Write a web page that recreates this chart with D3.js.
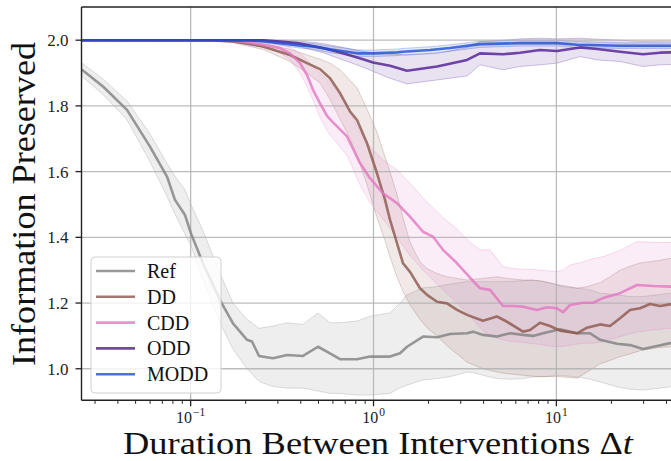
<!DOCTYPE html>
<html><head><meta charset="utf-8">
<script src="https://cdn.jsdelivr.net/npm/d3@7"></script>
<style>html,body{margin:0;padding:0;background:#fff;} svg{display:block;}</style>
</head><body>
<svg id="chart" width="671" height="461"></svg>
<script>
// ---------- data ----------
const seriesNames = ["Ref", "DD", "CDD", "ODD", "MODD"];
const seriesColors = ["#7f7f7f", "#8c564b", "#e377c2", "#4e1d94", "#1f4fd0"];

const refX    = [0.02545,0.03317,0.04485,0.05992,0.07424,0.08209,0.09314,0.1004,0.1168,0.1447,0.1704,0.2033,0.2165,0.2365,0.2821,0.3364,0.4115,0.4971,0.5781,0.6558,0.8124,0.9569,1.231,1.396,1.525,1.865,2.225,2.620,3.246,3.501,3.970,4.736,5.579,6.571,7.452,8.452,10.47,12.97,15.28,17.33,21.47,25.28,29.78,35.51,41.83,47.46];
const refMean = [1.910,1.859,1.788,1.676,1.585,1.514,1.468,1.412,1.321,1.209,1.138,1.088,1.083,1.039,1.032,1.042,1.039,1.067,1.047,1.029,1.029,1.037,1.037,1.047,1.067,1.098,1.096,1.106,1.108,1.113,1.103,1.098,1.108,1.103,1.100,1.108,1.120,1.108,1.108,1.088,1.076,1.072,1.060,1.069,1.078,1.075];
const refLo   = [1.890,1.835,1.758,1.630,1.525,1.470,1.410,1.375,1.270,1.140,1.060,1.000,0.985,0.961,0.946,0.941,0.941,0.932,0.925,0.925,0.920,0.920,0.925,0.942,0.950,0.966,0.970,0.976,0.990,0.988,0.980,0.970,0.968,0.970,0.975,0.976,0.980,0.975,0.968,0.960,0.945,0.938,0.935,0.940,0.945,0.945];
const refHi   = [1.930,1.882,1.815,1.715,1.625,1.585,1.545,1.500,1.420,1.290,1.200,1.150,1.140,1.123,1.130,1.140,1.135,1.170,1.140,1.140,1.145,1.160,1.170,1.200,1.225,1.246,1.250,1.258,1.265,1.265,1.265,1.265,1.266,1.268,1.270,1.265,1.255,1.246,1.240,1.230,1.225,1.220,1.220,1.225,1.230,1.230];

const ddX    = [0.02545,0.1276,0.1704,0.2487,0.3494,0.4328,0.5098,0.5781,0.6558,0.7438,0.8124,0.9214,1.045,1.156,1.231,1.344,1.450,1.583,1.796,1.962,2.225,2.523,2.862,3.246,3.970,4.736,5.372,6.571,7.176,8.139,9.233,10.47,12.97,14.71,17.33,19.65,22.29,25.28,28.68,32.52,36.88,41.83,47.46];
const ddMean = [2.000,2.000,1.996,1.981,1.955,1.930,1.912,1.884,1.839,1.783,1.757,1.686,1.595,1.514,1.453,1.382,1.321,1.295,1.245,1.225,1.204,1.199,1.179,1.164,1.146,1.159,1.143,1.113,1.118,1.140,1.130,1.116,1.108,1.125,1.135,1.130,1.154,1.179,1.184,1.197,1.191,1.196,1.196];
const ddLo   = [1.999,1.998,1.992,1.972,1.935,1.900,1.870,1.820,1.760,1.700,1.650,1.560,1.460,1.390,1.340,1.280,1.235,1.195,1.150,1.125,1.100,1.070,1.045,1.020,1.000,0.990,0.985,0.980,0.978,0.976,0.976,0.976,0.971,0.990,1.015,1.025,1.037,1.045,1.055,1.060,1.065,1.067,1.067];
const ddHi   = [2.001,2.001,2.000,1.990,1.972,1.955,1.942,1.930,1.910,1.878,1.855,1.790,1.720,1.645,1.600,1.530,1.460,1.385,1.325,1.305,1.290,1.280,1.275,1.270,1.275,1.280,1.275,1.270,1.270,1.268,1.262,1.252,1.245,1.250,1.262,1.280,1.300,1.312,1.322,1.326,1.330,1.336,1.336];

const cddX    = [0.02545,0.1704,0.2487,0.3081,0.3494,0.3963,0.4328,0.4668,0.5098,0.5566,0.6004,0.7161,0.8436,0.9569,1.127,1.344,1.583,1.865,2.115,2.399,2.862,3.371,3.823,4.337,5.108,5.794,6.571,7.837,8.889,10.08,10.87,11.88,13.99,15.87,17.99,22.29,27.61,33.77,41.83,47.46];
const cddMean = [2.000,2.000,1.986,1.976,1.960,1.930,1.894,1.849,1.808,1.770,1.750,1.707,1.626,1.580,1.534,1.504,1.463,1.417,1.402,1.362,1.321,1.277,1.245,1.240,1.191,1.191,1.189,1.179,1.187,1.184,1.172,1.194,1.201,1.201,1.215,1.230,1.255,1.252,1.250,1.250];
const cddLo   = [1.999,1.998,1.978,1.962,1.940,1.900,1.860,1.818,1.765,1.725,1.700,1.650,1.560,1.505,1.455,1.400,1.345,1.300,1.270,1.240,1.200,1.160,1.125,1.100,1.088,1.083,1.080,1.075,1.070,1.067,1.068,1.072,1.078,1.078,1.082,1.098,1.112,1.118,1.123,1.123];
const cddHi   = [2.001,2.001,1.994,1.988,1.978,1.960,1.940,1.920,1.900,1.880,1.860,1.800,1.720,1.675,1.636,1.605,1.565,1.520,1.490,1.460,1.425,1.385,1.362,1.362,1.311,1.305,1.303,1.301,1.298,1.296,1.300,1.316,1.325,1.335,1.341,1.360,1.387,1.385,1.384,1.384];

const oddX    = [0.02545,0.2487,0.3081,0.3816,0.5294,0.6810,0.8760,0.9937,1.231,1.525,2.225,3.246,3.823,5.108,6.328,8.139,10.08,13.47,16.69,22.29,29.78,36.88,41.83,47.46];
const oddMean = [2.000,2.000,1.996,1.991,1.976,1.960,1.942,1.932,1.922,1.907,1.920,1.940,1.960,1.957,1.962,1.970,1.967,1.978,1.973,1.965,1.957,1.962,1.963,1.963];
const oddLo   = [1.999,1.997,1.990,1.982,1.962,1.940,1.918,1.905,1.884,1.867,1.879,1.891,1.925,1.910,1.920,1.925,1.930,1.950,1.940,1.935,1.920,1.925,1.926,1.926];
const oddHi   = [2.001,2.002,2.000,1.998,1.990,1.978,1.966,1.962,1.958,1.955,1.960,1.978,1.996,2.000,2.004,2.006,2.004,2.006,2.003,2.000,1.996,1.997,1.997,1.997];

const moddX    = [0.02545,0.2033,0.2487,0.3081,0.3816,0.4668,0.5781,0.6558,0.8124,0.9937,1.344,1.450,2.037,2.620,3.823,6.328,10.08,12.97,22.29,41.83,47.46];
const moddMean = [2.000,2.000,1.997,1.991,1.985,1.981,1.972,1.968,1.960,1.960,1.963,1.965,1.970,1.976,1.988,1.991,1.991,1.986,1.983,1.983,1.983];
const moddLo   = [1.999,1.998,1.993,1.985,1.977,1.972,1.962,1.958,1.950,1.950,1.953,1.955,1.960,1.966,1.978,1.982,1.982,1.977,1.975,1.975,1.975];
const moddHi   = [2.001,2.002,2.001,1.997,1.993,1.990,1.982,1.978,1.970,1.970,1.973,1.975,1.980,1.986,1.997,2.000,2.000,1.996,1.992,1.992,1.992];

const yTickValues = [1.0, 1.2, 1.4, 1.6, 1.8, 2.0];
const xMajorTicks = [0.1, 1, 10];
const xTickExponents = ["\u22121", "0", "1"];
const xLabelMain = "Duration Between Interventions ";
const yLabel = "Information Preserved";

// ---------- build ----------
const seriesData = [
  {x: refX, m: refMean, lo: refLo, hi: refHi},
  {x: ddX, m: ddMean, lo: ddLo, hi: ddHi},
  {x: cddX, m: cddMean, lo: cddLo, hi: cddHi},
  {x: oddX, m: oddMean, lo: oddLo, hi: oddHi},
  {x: moddX, m: moddMean, lo: moddLo, hi: moddHi}
].map((s, i) => ({
  name: seriesNames[i], color: seriesColors[i],
  pts: s.x.map((xv, j) => ({x: xv, m: s.m[j], lo: s.lo[j], hi: s.hi[j]}))
}));

const svg = d3.select("#chart");
const L = 81.5, R = 684.2, T = 7, B = 400.3;
const x = d3.scaleLog().domain([0.0253, 50]).range([L, R]);
const y = d3.scaleLinear().domain([0.904, 2.101]).range([B, T]);
const FONT = "'Liberation Serif', 'DejaVu Serif', serif";

svg.append("defs").append("clipPath").attr("id", "clip")
  .append("rect").attr("x", L).attr("y", T).attr("width", R - L).attr("height", B - T);

const plot = svg.append("g").attr("clip-path", "url(#clip)");

// bands
const area = d3.area().x(d => x(d.x)).y0(d => y(d.lo)).y1(d => y(d.hi));
seriesData.forEach(s => {
  plot.append("path").datum(s.pts).attr("d", area)
    .attr("fill", s.color).attr("fill-opacity", 0.13)
    .attr("stroke", s.color).attr("stroke-opacity", 0.25).attr("stroke-width", 1);
});

// grid
const grid = plot.append("g");
yTickValues.forEach(v => {
  grid.append("line").attr("x1", L).attr("x2", R).attr("y1", y(v)).attr("y2", y(v))
    .attr("stroke", "#b0b0b0").attr("stroke-width", 1.3).attr("stroke-opacity", 0.85);
});
xMajorTicks.forEach(v => {
  grid.append("line").attr("y1", T).attr("y2", B).attr("x1", x(v)).attr("x2", x(v))
    .attr("stroke", "#b0b0b0").attr("stroke-width", 1.3).attr("stroke-opacity", 0.85);
});

// lines
const line = d3.line().x(d => x(d.x)).y(d => y(d.m));
seriesData.forEach(s => {
  plot.append("path").datum(s.pts).attr("d", line)
    .attr("fill", "none").attr("stroke", s.color).attr("stroke-opacity", 0.8)
    .attr("stroke-width", 2.6).attr("stroke-linejoin", "round").attr("stroke-linecap", "butt");
});

// spines
const sp = svg.append("g").attr("stroke", "#222").attr("stroke-width", 1.4).attr("fill", "none");
sp.append("line").attr("x1", L).attr("x2", L).attr("y1", T).attr("y2", B);
sp.append("line").attr("x1", L).attr("x2", R).attr("y1", T).attr("y2", T);
sp.append("line").attr("x1", L).attr("x2", R).attr("y1", B).attr("y2", B);
sp.append("line").attr("x1", R).attr("x2", R).attr("y1", T).attr("y2", B);

// y ticks
const yt = svg.append("g");
yTickValues.forEach(v => {
  yt.append("line").attr("x1", L - 6).attr("x2", L).attr("y1", y(v)).attr("y2", y(v))
    .attr("stroke", "#222").attr("stroke-width", 1.3);
  yt.append("text").attr("x", L - 13).attr("y", y(v)).attr("dy", "0.36em")
    .attr("text-anchor", "end").attr("font-family", FONT).attr("font-size", 17)
    .attr("fill", "#222").text(d3.format(".1f")(v));
});

// x ticks (major + minor from the log scale)
const xt = svg.append("g");
x.ticks().forEach(v => {
  const lg = Math.log10(v);
  const major = Math.abs(lg - Math.round(lg)) < 1e-9;
  xt.append("line").attr("x1", x(v)).attr("x2", x(v)).attr("y1", B).attr("y2", B + (major ? 6 : 3.5))
    .attr("stroke", "#222").attr("stroke-width", major ? 1.3 : 1);
});
xMajorTicks.forEach((v, i) => {
  const base = xt.append("text").attr("y", 423).attr("text-anchor", "start")
    .attr("font-family", FONT).attr("font-size", 16).attr("fill", "#222").text("10");
  const sup = xt.append("text").attr("y", 415.5).attr("text-anchor", "start")
    .attr("font-family", FONT).attr("font-size", 11.5).attr("fill", "#222").text(xTickExponents[i]);
  const w1 = base.node().getComputedTextLength();
  const w2 = sup.node().getComputedTextLength();
  const x0 = x(v) - (w1 + 1 + w2) / 2;
  base.attr("x", x0);
  sup.attr("x", x0 + w1 + 1);
});

// axis labels
const xl = svg.append("text").attr("x", 378).attr("y", 454.3).attr("text-anchor", "middle")
  .attr("font-family", FONT).attr("font-size", 31).attr("fill", "#111")
  .attr("textLength", 510).attr("lengthAdjust", "spacingAndGlyphs");
xl.append("tspan").text(xLabelMain + "\u0394");
xl.append("tspan").attr("font-style", "italic").text("t");

svg.append("text").attr("transform", "translate(35,204) rotate(-90)")
  .attr("text-anchor", "middle").attr("font-family", FONT).attr("font-size", 33).attr("fill", "#111")
  .attr("textLength", 324).attr("lengthAdjust", "spacingAndGlyphs").text(yLabel);

// legend
const lg = svg.append("g");
lg.append("rect").attr("x", 91).attr("y", 257).attr("width", 130).attr("height", 136).attr("rx", 4)
  .attr("fill", "#fff").attr("fill-opacity", 0.8).attr("stroke", "#d0d0d0").attr("stroke-width", 1);
seriesData.forEach((s, i) => {
  const cy = 271 + i * 25.8;
  lg.append("line").attr("x1", 96).attr("x2", 135).attr("y1", cy).attr("y2", cy)
    .attr("stroke", s.color).attr("stroke-opacity", 0.8).attr("stroke-width", 2.6);
  lg.append("text").attr("x", 147).attr("y", cy).attr("dy", "0.35em")
    .attr("font-family", FONT).attr("font-size", 20).attr("fill", "#111").text(s.name);
});
</script>
</body></html>
